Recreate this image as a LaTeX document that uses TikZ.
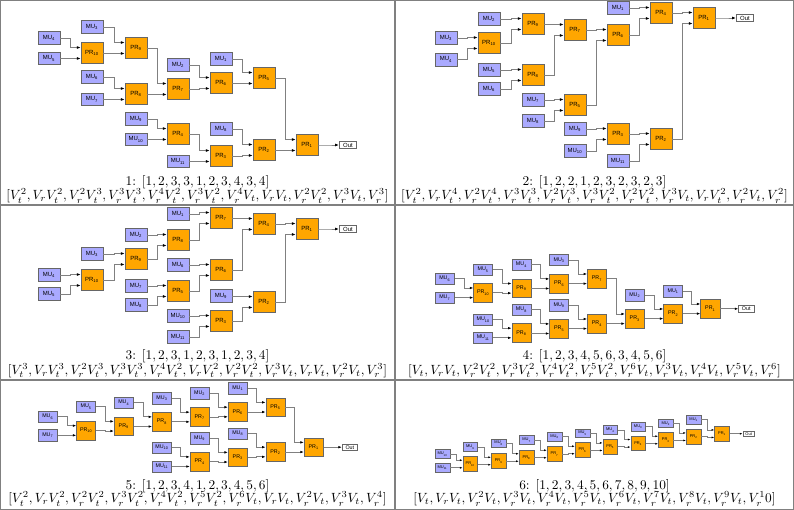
\documentclass[tikz,border=0pt]{standalone}
\usepackage{fontspec}
\setsansfont{Liberation Sans}
\usetikzlibrary{arrows.meta,calc}

\definecolor{mublue}{RGB}{170,170,255}
\definecolor{prorange}{RGB}{255,166,0}
\newcommand\blkfont{\sffamily\fontsize{4.5}{5}\selectfont}

\tikzset{
  blk/.style={draw=black!60, line width=0.4pt, inner sep=0pt, font=\blkfont},
  mu/.style={blk, fill=mublue, minimum width=16.3pt*#1, minimum height=9.5pt*#1},
  mu/.default=1,
  pr/.style={blk, fill=prorange, minimum width=16.3pt*#1, minimum height=16pt*#1},
  pr/.default=1,
  outblk/.style={blk, fill=white, minimum width=13pt*#1, minimum height=5.5pt*#1},
  outblk/.default=1,
  wire/.style={draw=black!50, line width=0.6pt,
    -{Latex[length=3pt,width=2.2pt,color=black,scale=#1]}},
  wire/.default=1,
  caption/.style={inner sep=0pt},
  frame/.style={draw=black!50, line width=0.8pt},
}

\begin{document}
\begin{tikzpicture}[x=0.75pt,y=-0.75pt]
  \useasboundingbox (0,0) rectangle (794,510);

  % panel 1
  \begin{scope}[name prefix=A-]
    \foreach \n/\x/\y in {4/49/38, 5/49/58.3, 3/92/27, 6/92/77, 7/92/99.3, 9/136/119,
        10/136/139.3, 2/178/65, 11/178/161.3, 1/221/59, 8/221/129}
      \node[mu] (mu\n) at (\x,\y) {MU\textsubscript{\n}};
    \foreach \n/\x/\y in {10/92/53, 9/136/48, 8/136/94, 7/178/89, 4/178/134,
        6/221/83, 3/221/156, 5/264/78, 2/264/150, 1/307/145}
      \node[pr] (pr\n) at (\x,\y) {PR\textsubscript{\n}};
    \node[outblk] (out) at (348,145) {Out};
    \foreach \n in {1,...,10} {
      \coordinate (t\n) at ($(pr\n.north west)!.25!(pr\n.south west)$);
      \coordinate (b\n) at ($(pr\n.north west)!.75!(pr\n.south west)$);
    }
    \foreach \s/\t in {mu4/t10, mu5/b10, mu3/t9, pr10/b9, mu6/t8, mu7/b8, pr9/t7, pr8/b7,
        mu2/t6, pr7/b6, mu1/t5, pr6/b5, mu9/t4, mu10/b4, pr4/t3, mu11/b3, mu8/t2, pr3/b2,
        pr5/t1, pr2/b1, pr1/out.west}
      \draw[wire] let \p1=(\s.east), \p2=(\t) in (\p1) -- ({(\x1+\x2)/2},\y1) |- (\p2);
    \node[caption] (cap) at (197.5,182) {1: $[1, 2, 3, 3, 1, 2, 3, 4, 3, 4]$};
    \node[caption] (lst) at (197.5,196) {$[V_t^2, V_rV_t^2, V_r^2V_t^3, V_r^3V_t^3, V_r^4V_t^2, V_r^3V_t^2, V_r^4V_t, V_rV_t, V_r^2V_t^2, V_r^3V_t, V_r^3]$};
  \end{scope}

  % panel 2
  \begin{scope}[name prefix=B-]
    \foreach \n/\x/\y in {3/446/38, 4/446/59.5, 2/489/19, 5/489/70, 6/489/89, 7/533/100,
        8/533/121, 9/575/129, 10/575/151, 1/618/8, 11/618/161}
      \node[mu] (mu\n) at (\x,\y) {MU\textsubscript{\n}};
    \foreach \n/\x/\y in {10/489/43, 9/533/24, 8/533/75, 7/575/30, 5/575/105,
        6/618/35, 3/618/134, 4/661/13, 2/661/139, 1/704/18}
      \node[pr] (pr\n) at (\x,\y) {PR\textsubscript{\n}};
    \node[outblk] (out) at (745,18) {Out};
    \foreach \n in {1,...,10} {
      \coordinate (t\n) at ($(pr\n.north west)!.25!(pr\n.south west)$);
      \coordinate (b\n) at ($(pr\n.north west)!.75!(pr\n.south west)$);
    }
    \foreach \s/\t in {mu3/t10, mu4/b10, mu2/t9, pr10/b9, mu5/t8, mu6/b8, pr9/t7, pr8/b7,
        mu7/t5, mu8/b5, pr7/t6, pr5/b6, mu9/t3, mu10/b3, mu1/t4, pr6/b4, pr3/t2, mu11/b2,
        pr4/t1, pr2/b1, pr1/out.west}
      \draw[wire] let \p1=(\s.east), \p2=(\t) in (\p1) -- ({(\x1+\x2)/2},\y1) |- (\p2);
    \node[caption] (cap) at (594.5,182) {2: $[1, 2, 2, 1, 2, 3, 2, 3, 2, 3]$};
    \node[caption] (lst) at (594.5,196) {$[V_t^2, V_rV_t^4, V_r^2V_t^4, V_r^3V_t^3, V_r^2V_t^3, V_r^3V_t^2, V_r^2V_t^2, V_r^3V_t, V_rV_t^2, V_r^2V_t, V_r^2]$};
  \end{scope}

  % panel 3
  \begin{scope}[name prefix=C-]
    \foreach \n/\x/\y in {4/49/275, 5/49/294, 3/92/254, 2/136/235, 7/136/286, 8/136/305,
        1/178/214, 6/178/265, 10/178/316, 11/178/337, 9/221/296}
      \node[mu] (mu\n) at (\x,\y) {MU\textsubscript{\n}};
    \foreach \n/\x/\y in {10/92/280, 9/136/259, 8/178/240, 5/178/291, 7/221/218,
        6/221/270, 3/221/321, 4/264/224, 2/264/302, 1/307/229}
      \node[pr] (pr\n) at (\x,\y) {PR\textsubscript{\n}};
    \node[outblk] (out) at (348,229) {Out};
    \foreach \n in {1,...,10} {
      \coordinate (t\n) at ($(pr\n.north west)!.25!(pr\n.south west)$);
      \coordinate (b\n) at ($(pr\n.north west)!.75!(pr\n.south west)$);
    }
    \foreach \s/\t in {mu4/t10, mu5/b10, mu3/t9, pr10/b9, mu2/t8, pr9/b8, mu1/t7, pr8/b7,
        mu6/t6, pr5/b6, mu7/t5, mu8/b5, mu10/t3, mu11/b3, pr7/t4, pr6/b4, mu9/t2, pr3/b2,
        pr4/t1, pr2/b1, pr1/out.west}
      \draw[wire] let \p1=(\s.east), \p2=(\t) in (\p1) -- ({(\x1+\x2)/2},\y1) |- (\p2);
    \node[caption] (cap) at (197.5,356) {3: $[1, 2, 3, 1, 2, 3, 1, 2, 3, 4]$};
    \node[caption] (lst) at (197.5,370.5) {$[V_t^3, V_rV_t^3, V_r^2V_t^3, V_r^3V_t^3, V_r^4V_t^2, V_rV_t^2, V_r^2V_t^2, V_r^3V_t, V_rV_t, V_r^2V_t, V_r^3]$};
  \end{scope}

  % panel 4
  \begin{scope}[name prefix=D-]
    \renewcommand\blkfont{\sffamily\fontsize{4}{4.5}\selectfont}
    \foreach \n/\x/\y in {6/444.8/278.8, 7/444.8/297.5, 5/483.2/269.7, 10/483.2/319.8,
        11/483.2/337.7, 4/521.5/264.8, 8/521.5/309.8, 3/559.2/260, 9/559.2/305.2,
        2/634.8/295.3, 1/673.2/291.2}
      \node[mu=0.88] (mu\n) at (\x,\y) {MU\textsubscript{\n}};
    \foreach \n/\x/\y in {10/483.2/292.8, 9/521.5/288.3, 8/521.5/333, 6/559.2/283.7,
        5/559.2/328.7, 7/597/278.8, 4/597/323.8, 3/634.8/318.8, 2/673.2/313.8, 1/710.3/308.8}
      \node[pr=0.88] (pr\n) at (\x,\y) {PR\textsubscript{\n}};
    \node[outblk=0.88] (out) at (746.2,308.8) {Out};
    \foreach \n in {1,...,10} {
      \coordinate (t\n) at ($(pr\n.north west)!.25!(pr\n.south west)$);
      \coordinate (b\n) at ($(pr\n.north west)!.75!(pr\n.south west)$);
    }
    \foreach \s/\t in {mu6/t10, mu7/b10, mu5/t9, pr10/b9, mu4/t6, pr9/b6, mu3/t7, pr6/b7,
        mu10/t8, mu11/b8, mu8/t5, pr8/b5, mu9/t4, pr5/b4, pr7/t3, pr4/b3, mu2/t2, pr3/b2,
        mu1/t1, pr2/b1, pr1/out.west}
      \draw[wire=0.88] let \p1=(\s.east), \p2=(\t) in (\p1) -- ({(\x1+\x2)/2},\y1) |- (\p2);
    \node[caption] (cap) at (594.5,356) {4: $[1, 2, 3, 4, 5, 6, 3, 4, 5, 6]$};
    \node[caption] (lst) at (594.5,370.5) {$[V_t, V_rV_t, V_r^2V_t^2, V_r^3V_t^2, V_r^4V_t^2, V_r^5V_t^2, V_r^6V_t, V_r^3V_t, V_r^4V_t, V_r^5V_t, V_r^6]$};
  \end{scope}

  % panel 5
  \begin{scope}[name prefix=E-]
    \renewcommand\blkfont{\sffamily\fontsize{4}{4.5}\selectfont}
    \foreach \n/\x/\y in {6/47.8/416.7, 7/47.8/435.2, 5/86.2/406.8, 4/123.8/402.5,
        3/162/398.2, 10/162/447.5, 11/162/466.4, 2/199.7/393.2, 9/199.7/438.2,
        1/237.8/388.3, 8/237.8/433.5}
      \node[mu=0.88] (mu\n) at (\x,\y) {MU\textsubscript{\n}};
    \foreach \n/\x/\y in {10/86.2/430.5, 9/123.8/426.2, 8/162/421.7, 7/199.7/417,
        4/199.7/461.7, 6/237.8/412, 3/237.8/457.2, 5/275.5/407.2, 2/275.5/452, 1/313.7/447.2}
      \node[pr=0.88] (pr\n) at (\x,\y) {PR\textsubscript{\n}};
    \node[outblk=0.88] (out) at (349.8,447.2) {Out};
    \foreach \n in {1,...,10} {
      \coordinate (t\n) at ($(pr\n.north west)!.25!(pr\n.south west)$);
      \coordinate (b\n) at ($(pr\n.north west)!.75!(pr\n.south west)$);
    }
    \foreach \s/\t in {mu6/t10, mu7/b10, mu5/t9, pr10/b9, mu4/t8, pr9/b8, mu3/t7, pr8/b7,
        mu2/t6, pr7/b6, mu1/t5, pr6/b5, mu10/t4, mu11/b4, mu9/t3, pr4/b3, mu8/t2, pr3/b2,
        pr5/t1, pr2/b1, pr1/out.west}
      \draw[wire=0.88] let \p1=(\s.east), \p2=(\t) in (\p1) -- ({(\x1+\x2)/2},\y1) |- (\p2);
    \node[caption] (cap) at (197.5,486) {5: $[1, 2, 3, 4, 1, 2, 3, 4, 5, 6]$};
    \node[caption] (lst) at (197.5,499) {$[V_t^2, V_rV_t^2, V_r^2V_t^2, V_r^3V_t^2, V_r^4V_t^2, V_r^5V_t^2, V_r^6V_t, V_rV_t, V_r^2V_t, V_r^3V_t, V_r^4]$};
  \end{scope}

  % panel 6
  \begin{scope}[name prefix=F-]
    \renewcommand\blkfont{\sffamily\fontsize{3}{3.5}\selectfont}
    \foreach \n/\x/\y in {10/442.5/454, 11/442.5/467.6, 9/470.3/447, 8/498.7/443.3,
        7/526.5/440, 6/554.5/436.5, 5/582.5/433.3, 4/610.3/430, 3/638.2/426.7,
        2/665.8/423.3, 1/693.7/419.7}
      \node[mu=0.68] (mu\n) at (\x,\y) {MU\textsubscript{\n}};
    \foreach \n/\x/\y in {10/470.3/464, 9/498.7/461, 8/526.5/457.5, 7/554.5/454,
        6/582.5/450, 5/610.3/446.7, 4/638.2/443.3, 3/665.8/440, 2/693.7/436.7, 1/722/433.7}
      \node[pr=0.68] (pr\n) at (\x,\y) {PR\textsubscript{\n}};
    \node[outblk=0.68] (out) at (748.7,433.7) {Out};
    \foreach \n in {1,...,10} {
      \coordinate (t\n) at ($(pr\n.north west)!.25!(pr\n.south west)$);
      \coordinate (b\n) at ($(pr\n.north west)!.75!(pr\n.south west)$);
    }
    \foreach \s/\t in {mu10/t10, mu11/b10, mu9/t9, pr10/b9, mu8/t8, pr9/b8, mu7/t7, pr8/b7,
        mu6/t6, pr7/b6, mu5/t5, pr6/b5, mu4/t4, pr5/b4, mu3/t3, pr4/b3, mu2/t2, pr3/b2,
        mu1/t1, pr2/b1, pr1/out.west}
      \draw[wire=0.68] let \p1=(\s.east), \p2=(\t) in (\p1) -- ({(\x1+\x2)/2},\y1) |- (\p2);
    \node[caption] (cap) at (594.5,486) {6: $[1, 2, 3, 4, 5, 6, 7, 8, 9, 10]$};
    \node[caption] (lst) at (594.5,499) {$[V_t, V_rV_t, V_r^2V_t, V_r^3V_t, V_r^4V_t, V_r^5V_t, V_r^6V_t, V_r^7V_t, V_r^8V_t, V_r^9V_t, V_r^10]$};
  \end{scope}

  % frame
  \draw[frame] (0.5,0.5) rectangle (793.5,509.5);
  \draw[frame] (395,0) -- (395,510);
  \draw[frame] (0,205) -- (794,205);
  \draw[frame] (0,380) -- (794,380);
\end{tikzpicture}
\end{document}
